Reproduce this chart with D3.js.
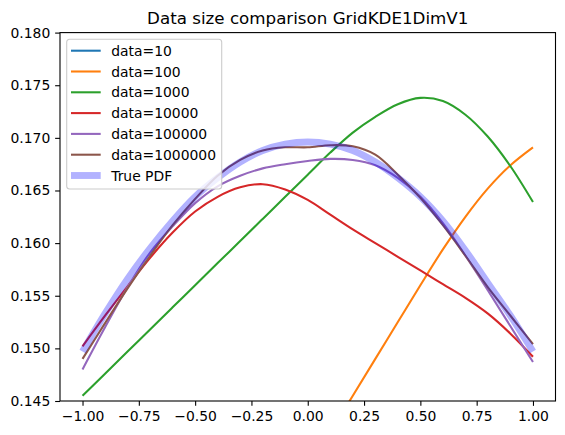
<!DOCTYPE html>
<html>
<head>
<meta charset="utf-8">
<script src="https://cdn.jsdelivr.net/npm/d3@7"></script>
<style>
  body { margin: 0; background: #fff; }
  svg { display: block; font-family: "DejaVu Sans", sans-serif; }
</style>
</head>
<body>
<div id="chart"></div>
<script>
// Data (x grid shared by every series)
const xGrid = [-1.0, -0.9, -0.8, -0.7, -0.6, -0.5, -0.4, -0.3, -0.2, -0.1, 0.0,
               0.1, 0.2, 0.3, 0.4, 0.5, 0.6, 0.7, 0.8, 0.9, 1.0];

const data10 = [];  // never enters the visible y range
const data100 = [null, null, null, null, null, null, null, null, null, null, null,
                 0.1420, 0.1455, 0.1490, 0.1525, 0.1560, 0.1594, 0.1625, 0.1652, 0.1674, 0.1691];
const data1000 = [0.1455, 0.1476, 0.1497, 0.1518, 0.1539, 0.1560, 0.1581, 0.1602, 0.1623, 0.1644, 0.1665,
                  0.1686, 0.1705, 0.1720, 0.1732, 0.1738, 0.1735, 0.1722, 0.1701, 0.1673, 0.1639];
const data10000 = [0.1502, 0.1531, 0.1559, 0.1586, 0.1610, 0.1630, 0.1644, 0.1653, 0.1656, 0.1651, 0.1641,
                   0.1627, 0.1613, 0.1600, 0.1587, 0.1574, 0.1561, 0.1548, 0.1533, 0.1514, 0.1492];
const data100000 = [0.1480, 0.1520, 0.1558, 0.1591, 0.1616, 0.1638, 0.1654, 0.1664, 0.1671, 0.1675, 0.1678,
                    0.1680, 0.1679, 0.1674, 0.1662, 0.1644, 0.1619, 0.1588, 0.1555, 0.1521, 0.1487];
const data1000000 = [0.1490, 0.1524, 0.1557, 0.1588, 0.1617, 0.1642, 0.1664, 0.1679, 0.1688, 0.1691, 0.1691,
                     0.1693, 0.1692, 0.1684, 0.1665, 0.1643, 0.1617, 0.1588, 0.1558, 0.1531, 0.1504];
const truePdf = [0.1497, 0.1533, 0.1566, 0.1595, 0.1621, 0.1644, 0.1662, 0.1677, 0.1688, 0.1694, 0.1696,
                 0.1694, 0.1688, 0.1677, 0.1662, 0.1644, 0.1621, 0.1593, 0.1562, 0.1531, 0.1497];

const seriesNames = ["data=10", "data=100", "data=1000", "data=10000", "data=100000", "data=1000000"];
const seriesValues = [data10, data100, data1000, data10000, data100000, data1000000];
const seriesColors = ["#1f77b4", "#ff7f0e", "#2ca02c", "#d62728", "#9467bd", "#8c564b"];

const xTicks = [-1.0, -0.75, -0.5, -0.25, 0.0, 0.25, 0.5, 0.75, 1.0];
const yTicks = [0.145, 0.150, 0.155, 0.160, 0.165, 0.170, 0.175, 0.180];
const TITLE = "Data size comparison GridKDE1DimV1";

// Layout
const W = 565, H = 435;
const PLOT = { left: 60, right: 555.5, top: 32.6, bottom: 401 };
const TICK = 4.86;

const svg = d3.select("#chart").append("svg")
    .attr("width", W)
    .attr("height", H);

const x = d3.scaleLinear().domain([-1.1, 1.1]).range([PLOT.left, PLOT.right]);
const y = d3.scaleLinear().domain([0.145, 0.180]).range([PLOT.bottom, PLOT.top]);

svg.append("clipPath").attr("id", "clip")
    .append("rect")
    .attr("x", PLOT.left).attr("y", PLOT.top)
    .attr("width", PLOT.right - PLOT.left)
    .attr("height", PLOT.bottom - PLOT.top);

const line = d3.line()
    .defined(d => d[1] !== null)
    .x(d => x(d[0]))
    .y(d => y(d[1]))
    .curve(d3.curveCatmullRom.alpha(0.5));

const plot = svg.append("g").attr("clip-path", "url(#clip)");

seriesValues.forEach((vals, i) => {
    if (!vals.length) return;
    plot.append("path")
        .attr("d", line(xGrid.map((xv, j) => [xv, vals[j]])))
        .attr("fill", "none")
        .attr("stroke", seriesColors[i])
        .attr("stroke-width", 2.08);
});

// True PDF drawn last, wide and translucent
plot.append("path")
    .attr("d", line(xGrid.map((xv, j) => [xv, truePdf[j]])))
    .attr("fill", "none")
    .attr("stroke", "blue")
    .attr("stroke-opacity", 0.3)
    .attr("stroke-width", 6.9);

// Axes
const fmtMinus = s => s.replace("-", "\u2212");

svg.append("g")
    .attr("transform", `translate(0, ${PLOT.bottom})`)
    .call(d3.axisBottom(x).tickValues(xTicks).tickSize(TICK).tickSizeOuter(0).tickPadding(4.86)
        .tickFormat(d => fmtMinus(d3.format(".2f")(d))))
    .call(g => g.select(".domain").remove())
    .call(g => g.selectAll("text").attr("font-size", 13.9).attr("fill", "#000").attr("font-family", "DejaVu Sans"))
    .call(g => g.selectAll(".tick line").attr("stroke", "#000").attr("stroke-width", 1.1));

svg.append("g")
    .attr("transform", `translate(${PLOT.left}, 0)`)
    .call(d3.axisLeft(y).tickValues(yTicks).tickSize(TICK).tickSizeOuter(0).tickPadding(4.86)
        .tickFormat(d3.format(".3f")))
    .call(g => g.select(".domain").remove())
    .call(g => g.selectAll("text").attr("font-size", 13.9).attr("fill", "#000").attr("font-family", "DejaVu Sans"))
    .call(g => g.selectAll(".tick line").attr("stroke", "#000").attr("stroke-width", 1.1));

// Spines
svg.append("rect")
    .attr("x", PLOT.left).attr("y", PLOT.top)
    .attr("width", PLOT.right - PLOT.left)
    .attr("height", PLOT.bottom - PLOT.top)
    .attr("fill", "none")
    .attr("stroke", "#000")
    .attr("stroke-width", 1.1);

// Title
svg.append("text")
    .attr("x", (PLOT.left + PLOT.right) / 2)
    .attr("y", PLOT.top - 8.3)
    .attr("text-anchor", "middle")
    .attr("font-size", 16.7)
    .text(TITLE);

// Legend
const legendLabels = seriesNames.concat(["True PDF"]);
const legend = svg.append("g").attr("transform", "translate(66.7, 39.3)");

legend.append("rect")
    .attr("width", 155)
    .attr("height", 149.7)
    .attr("rx", 3)
    .attr("fill", "#fff")
    .attr("fill-opacity", 0.8)
    .attr("stroke", "#cccccc")
    .attr("stroke-width", 1.1);

legendLabels.forEach((label, i) => {
    const cy = 11.4 + i * 20.8;
    const isPdf = i === seriesNames.length;
    legend.append("line")
        .attr("x1", 4.3).attr("x2", 34)
        .attr("y1", cy).attr("y2", cy)
        .attr("stroke", isPdf ? "blue" : seriesColors[i])
        .attr("stroke-opacity", isPdf ? 0.3 : 1)
        .attr("stroke-width", isPdf ? 6.9 : 2.08);
    legend.append("text")
        .attr("x", 44.5)
        .attr("y", cy)
        .attr("dy", "0.36em")
        .attr("font-size", 13.9)
        .text(label);
});
</script>
</body>
</html>
